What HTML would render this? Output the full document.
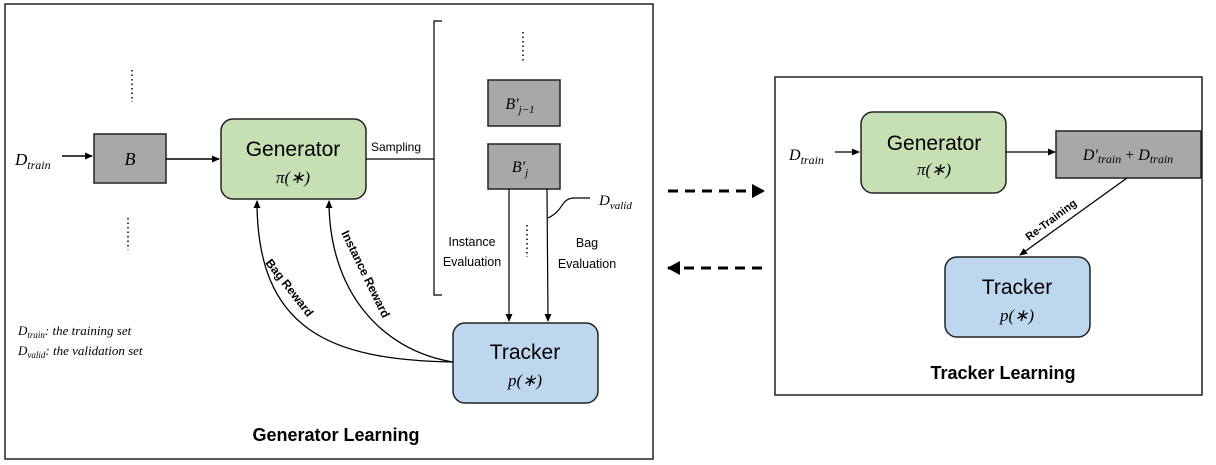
<!DOCTYPE html>
<html><head><style>
body{margin:0;background:#fff;}
svg{display:block;font-family:"Liberation Sans",sans-serif;}
.m{font-family:"Liberation Serif",serif;font-style:italic;}
</style></head><body>
<svg width="1216" height="465" viewBox="0 0 1216 465">
<defs>
<marker id="a" markerWidth="8" markerHeight="8" refX="7" refY="4" orient="auto" markerUnits="userSpaceOnUse"><path d="M0,0.5 L8,4 L0,7.5z" fill="#000"/></marker>
<marker id="b" markerWidth="14" markerHeight="14" refX="12" refY="7" orient="auto" markerUnits="userSpaceOnUse"><path d="M0,0 L13,7 L0,14z" fill="#000"/></marker>
</defs>
<!-- left frame -->
<rect x="5" y="4" width="648" height="455" fill="#fff" stroke="#222" stroke-width="1.5"/>
<rect x="94" y="134" width="72" height="49" fill="#a9a7a7" stroke="#222" stroke-width="1.5"/>
<text x="130" y="165" class="m" font-size="18" text-anchor="middle">B</text>
<rect x="221" y="119" width="145" height="80" rx="12" fill="#c6e0b4" stroke="#222" stroke-width="1.5"/>
<text x="293" y="156" font-size="21" text-anchor="middle">Generator</text>
<text x="293" y="183" class="m" font-size="17" text-anchor="middle">π(∗)</text>
<rect x="453" y="323" width="145" height="80" rx="12" fill="#bdd7ee" stroke="#222" stroke-width="1.5"/>
<text x="525" y="359" font-size="21" text-anchor="middle">Tracker</text>
<text x="525" y="386" class="m" font-size="17" text-anchor="middle">p(∗)</text>
<rect x="488" y="80" width="72" height="46" fill="#a9a7a7" stroke="#222" stroke-width="1.5"/>
<text x="520" y="109" class="m" font-size="16" text-anchor="middle">B′<tspan font-size="11" dy="4">j−1</tspan></text>
<rect x="488" y="144" width="72" height="45" fill="#a9a7a7" stroke="#222" stroke-width="1.5"/>
<text x="520" y="172" class="m" font-size="16" text-anchor="middle">B′<tspan font-size="11" dy="4">j</tspan></text>
<text x="15" y="165" class="m" font-size="17">D<tspan font-size="12" dy="4">train</tspan></text>
<line x1="62" y1="156" x2="92" y2="156" stroke="#000" stroke-width="1.5" marker-end="url(#a)"/>
<line x1="166" y1="159" x2="219" y2="159" stroke="#000" stroke-width="1.5" marker-end="url(#a)"/>
<line x1="366" y1="159" x2="434" y2="159" stroke="#000" stroke-width="1.2"/>
<text x="371" y="151" font-size="12">Sampling</text>
<path d="M442,21 L434,21 L434,295 L442,295" fill="none" stroke="#000" stroke-width="1.2"/>
<g stroke="#000" stroke-width="1.5" stroke-dasharray="1.5,3">
<line x1="132" y1="70" x2="132" y2="102"/><line x1="128" y1="218" x2="128" y2="250"/>
<line x1="523" y1="32" x2="523" y2="63"/><line x1="527" y1="225" x2="527" y2="257"/>
</g>
<line x1="509" y1="189" x2="509" y2="321" stroke="#000" stroke-width="1.2" marker-end="url(#a)"/>
<line x1="547" y1="189" x2="548" y2="321" stroke="#000" stroke-width="1.2" marker-end="url(#a)"/>
<path d="M548,218 C565,210 560,198 575,198 L590,198" fill="none" stroke="#000" stroke-width="1.2"/>
<text x="599" y="205" class="m" font-size="15">D<tspan font-size="11" dy="4">valid</tspan></text>
<text x="472" y="246" font-size="12.5" text-anchor="middle">Instance</text>
<text x="472" y="266" font-size="12.5" text-anchor="middle">Evaluation</text>
<text x="587" y="247" font-size="12.5" text-anchor="middle">Bag</text>
<text x="587" y="268" font-size="12.5" text-anchor="middle">Evaluation</text>
<path d="M453,362 C330,360 257,330 257,201" fill="none" stroke="#000" stroke-width="1.3" marker-end="url(#a)"/>
<path d="M453,362 C380,350 329,290 329,201" fill="none" stroke="#000" stroke-width="1.3" marker-end="url(#a)"/>
<text font-size="12" font-weight="bold" transform="translate(265,263) rotate(52)">Bag Reward</text>
<text font-size="12" font-weight="bold" transform="translate(341,233) rotate(64)">Instance Reward</text>
<text x="18" y="335" class="m" font-size="13">D<tspan font-size="9" dy="3">train</tspan><tspan dy="-3">: the training set</tspan></text>
<text x="18" y="355" class="m" font-size="13">D<tspan font-size="9" dy="3">valid</tspan><tspan dy="-3">: the validation set</tspan></text>
<text x="336" y="441" font-size="18" font-weight="bold" text-anchor="middle">Generator Learning</text>
<!-- arrows between -->
<line x1="668" y1="191" x2="764" y2="191" stroke="#000" stroke-width="3" stroke-dasharray="10,7" marker-end="url(#b)"/>
<line x1="762" y1="268" x2="668" y2="268" stroke="#000" stroke-width="3" stroke-dasharray="10,7" marker-end="url(#b)"/>
<!-- right frame -->
<rect x="775" y="77" width="427" height="318" fill="#fff" stroke="#222" stroke-width="1.5"/>
<rect x="861" y="112" width="145" height="81" rx="12" fill="#c6e0b4" stroke="#222" stroke-width="1.5"/>
<text x="934" y="150" font-size="21" text-anchor="middle">Generator</text>
<text x="934" y="175" class="m" font-size="17" text-anchor="middle">π(∗)</text>
<text x="789" y="160" class="m" font-size="16">D<tspan font-size="12" dy="4">train</tspan></text>
<line x1="835" y1="152" x2="859" y2="152" stroke="#000" stroke-width="1.3" marker-end="url(#a)"/>
<line x1="1006" y1="152" x2="1055" y2="152" stroke="#000" stroke-width="1.3" marker-end="url(#a)"/>
<rect x="1056" y="131" width="145" height="47" fill="#a9a7a7" stroke="#222" stroke-width="1.5"/>
<text x="1128" y="160" class="m" font-size="16" text-anchor="middle">D′<tspan font-size="12" dy="3">train</tspan><tspan dy="-3" font-style="normal"> + </tspan>D<tspan font-size="12" dy="3">train</tspan></text>
<line x1="1127" y1="178" x2="1020" y2="255" stroke="#000" stroke-width="1.3" marker-end="url(#a)"/>
<text font-size="11" font-weight="bold" transform="translate(1029,241) rotate(-37)">Re-Training</text>
<rect x="945" y="257" width="145" height="80" rx="12" fill="#bdd7ee" stroke="#222" stroke-width="1.5"/>
<text x="1017" y="294" font-size="21" text-anchor="middle">Tracker</text>
<text x="1017" y="321" class="m" font-size="17" text-anchor="middle">p(∗)</text>
<text x="1003" y="379" font-size="18" font-weight="bold" text-anchor="middle">Tracker Learning</text>
</svg>
</body></html>
